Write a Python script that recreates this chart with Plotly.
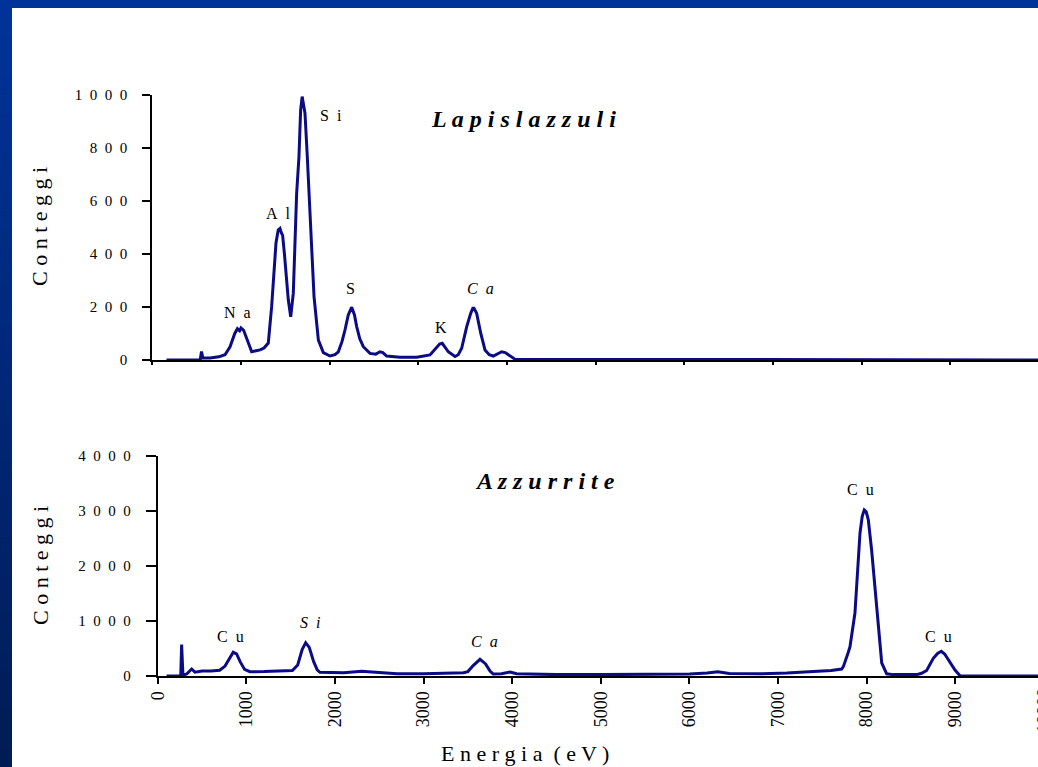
import plotly.graph_objects as go

# ---------------- data ----------------
lap_energy = [160, 540, 555, 570, 650, 750, 820, 877, 930, 960, 985, 1000, 1030, 1064, 1100, 1121,
              1170, 1215, 1260, 1308, 1346, 1370, 1395, 1420, 1440, 1455, 1470, 1490, 1508,
              1534, 1561, 1590, 1610, 1628, 1654, 1673, 1690, 1705, 1722, 1748, 1786, 1824,
              1873, 1929, 2004, 2060, 2098, 2140, 2173, 2210, 2249, 2280, 2305, 2340, 2380,
              2455, 2520, 2568, 2600, 2643, 2793, 2982, 3132, 3170, 3207, 3240, 3270, 3300,
              3338, 3414, 3450, 3489, 3520, 3546, 3591, 3615, 3628, 3658, 3680, 3704, 3752,
              3800, 3846, 3900, 3940, 3980, 4015, 4090, 4200, 4800, 6100, 6200, 10000]
lap_counts = [0, 0, 32, 8, 8, 12, 20, 50, 100, 118, 110, 121, 112, 83, 45, 31,
              35, 38, 45, 64, 201, 330, 441, 490, 496, 480, 470, 400, 327,
              226, 163, 251, 450, 628, 766, 942, 993, 960, 930, 766, 490, 239,
              75, 28, 15, 20, 31, 70, 113, 170, 199, 170, 126, 80, 50,
              25, 22, 31, 28, 15, 10, 10, 19, 35, 50, 60, 63, 50,
              31, 13, 20, 44, 90, 126, 176, 195, 195, 176, 140, 101, 38,
              20, 15, 25, 31, 28, 19, 3, 2, 2, 3, 2, 0]

azz_energy = [100, 260, 270, 285, 330, 383, 420, 500, 600, 700, 760, 810, 852, 890, 930,
              980, 1040, 1200, 1400, 1520, 1580, 1630, 1670, 1710, 1760, 1800, 1830, 1950,
              2100, 2300, 2500, 2700, 3000, 3300, 3450, 3500, 3560, 3637, 3700, 3750, 3786,
              3880, 3977, 4050, 4500, 5000, 5500, 6000, 6200, 6320, 6450, 6800, 7100, 7395,
              7600, 7718, 7737, 7790, 7812, 7868, 7894, 7925, 7950, 7973, 7995, 8019, 8056,
              8094, 8131, 8170, 8226, 8300, 8565, 8620, 8677, 8752, 8800, 8842, 8880, 8921,
              8997, 9053, 9100, 10000]
azz_counts = [0, 0, 570, 10, 40, 127, 70, 90, 90, 105, 180, 330, 430, 400, 260,
              120, 78, 80, 90, 100, 200, 480, 605, 520, 260, 110, 67, 60,
              60, 85, 60, 40, 40, 45, 60, 80, 190, 303, 220, 90, 35,
              40, 72, 40, 25, 25, 25, 35, 55, 78, 45, 40, 55, 78,
              100, 127, 170, 418, 532, 1144, 1870, 2597, 2900, 3015, 2980, 2833, 2288,
              1562, 835, 236, 40, 25, 25, 50, 100, 320, 410, 450, 400, 290,
              109, 5, 0, 0]

lap_ticks = [0, 200, 400, 600, 800, 1000]
azz_ticks = [0, 1000, 2000, 3000, 4000]
x_ticks = [0, 1000, 2000, 3000, 4000, 5000, 6000, 7000, 8000, 9000, 10000]

lap_labels = [("N\u2002a", 966, 178, False), ("A\u2002l", 1418, 554, False),
              ("S\u2002i", 2015, 923, False), ("S", 2230, 271, False),
              ("K", 3252, 121, False), ("C\u2002a", 3696, 271, True)]
azz_labels = [("C\u2002u", 827, 714, False), ("S\u2002i", 1719, 968, True),
              ("C\u2002a", 3682, 623, True), ("C\u2002u", 7936, 3378, False),
              ("C\u2002u", 8816, 714, False)]

def spaced(s):
    return "\u2002".join(list(str(s)))

# ---------------- figure ----------------
W, H = 1038, 767
FONT = "'Liberation Serif', 'Times New Roman', serif"
LINE = "#0b0b86"

fig = go.Figure()
fig.add_trace(go.Scatter(x=lap_energy, y=lap_counts, mode="lines",
                         line=dict(color=LINE, width=3), xaxis="x", yaxis="y",
                         showlegend=False, hoverinfo="skip"))
fig.add_trace(go.Scatter(x=azz_energy, y=azz_counts, mode="lines",
                         line=dict(color=LINE, width=3), xaxis="x2", yaxis="y2",
                         showlegend=False, hoverinfo="skip"))

axis_common = dict(showgrid=False, zeroline=False, showline=True, linecolor="black",
                   automargin=False, tickcolor="black",
                   tickfont=dict(family=FONT, size=15, color="black"))

fig.update_layout(
    width=W, height=H,
    margin=dict(l=0, r=0, t=0, b=0),
    paper_bgcolor="white", plot_bgcolor="white",
    xaxis=dict(axis_common, domain=[152.3 / W, 1], range=[0, (W - 152.3) / 0.08867],
               anchor="y", tickvals=x_ticks, showticklabels=False,
               ticks="outside", ticklen=3, tickwidth=1.5, linewidth=1.5),
    yaxis=dict(axis_common, domain=[1 - 360 / H, 1 - 94.7 / H], range=[0, 1000],
               anchor="x", tickvals=lap_ticks, ticktext=[spaced(v) for v in lap_ticks],
               ticks="outside", ticklen=8, tickwidth=2, linewidth=2,
               ticklabelstandoff=12),
    xaxis2=dict(axis_common, domain=[157.7 / W, 1], range=[0, (W - 157.7) / 0.08862],
                anchor="y2", tickvals=x_ticks, ticktext=[str(v) for v in x_ticks],
                tickangle=-90, ticks="outside", ticklen=6, tickwidth=2, linewidth=2,
                tickfont=dict(family=FONT, size=18, color="black")),
    yaxis2=dict(axis_common, domain=[1 - 676 / H, 1 - 455.7 / H], range=[0, 4000],
                anchor="x2", tickvals=azz_ticks, ticktext=[spaced(v) for v in azz_ticks],
                ticks="outside", ticklen=10, tickwidth=2, linewidth=2,
                ticklabelstandoff=12),
)

anns = []
for txt, xv, yv, it in lap_labels:
    anns.append(dict(text=("<i>%s</i>" % txt) if it else txt, x=xv, y=yv, xref="x", yref="y",
                     xanchor="center", yanchor="middle", showarrow=False,
                     font=dict(family=FONT, size=16, color="black")))
for txt, xv, yv, it in azz_labels:
    anns.append(dict(text=("<i>%s</i>" % txt) if it else txt, x=xv, y=yv, xref="x2", yref="y2",
                     xanchor="center", yanchor="middle", showarrow=False,
                     font=dict(family=FONT, size=16, color="black")))

common = dict(xref="paper", yref="paper", showarrow=False, xanchor="center", yanchor="middle")
anns += [
    dict(common, text="<b><i>L a p i s l a z z u l i</i></b>", x=523 / W, y=1 - 119 / H,
         font=dict(family=FONT, size=24, color="black")),
    dict(common, text="<b><i>A z z u r r i t e</i></b>", x=545 / W, y=1 - 481 / H,
         font=dict(family=FONT, size=24, color="black")),
    dict(common, text="C o n t e g g i", x=40 / W, y=1 - 227 / H, textangle=-90,
         font=dict(family=FONT, size=22, color="black")),
    dict(common, text="C o n t e g g i", x=40 / W, y=1 - 566 / H, textangle=-90,
         font=dict(family=FONT, size=22, color="black")),
    dict(common, text="E n e r g i a \u00a0( e V )", x=525 / W, y=1 - 753 / H,
         font=dict(family=FONT, size=22, color="black")),
    # partially visible last tick label at the right edge of the lower axis (as in the reference)
    dict(common, text="10000", x=(157.7 + 0.08862 * 10000) / W, y=1 - 710 / H,
         textangle=-90, font=dict(family=FONT, size=18, color="black")),
]
fig.update_layout(annotations=anns)

# slide frame: blue top strip and left strip with a vertical gradient
shapes = [dict(type="rect", xref="paper", yref="paper", x0=0, x1=1, y0=1 - 8 / H, y1=1,
               fillcolor="#003399", line=dict(width=0), layer="above")]
n = 40
c0 = (0x00, 0x33, 0x99)
c1 = (0x00, 0x1c, 0x55)
for i in range(n):
    t = i / (n - 1)
    col = "rgb(%d,%d,%d)" % tuple(round(a + (b - a) * t) for a, b in zip(c0, c1))
    shapes.append(dict(type="rect", xref="paper", yref="paper", x0=0, x1=12 / W,
                       y0=1 - (i + 1) / n, y1=1 - i / n + 0.001,
                       fillcolor=col, line=dict(width=0), layer="above"))
fig.update_layout(shapes=shapes)

fig.write_html("out.html", config={"displayModeBar": False},
               post_script="document.body.style.margin='0';document.body.style.overflow='hidden';")
